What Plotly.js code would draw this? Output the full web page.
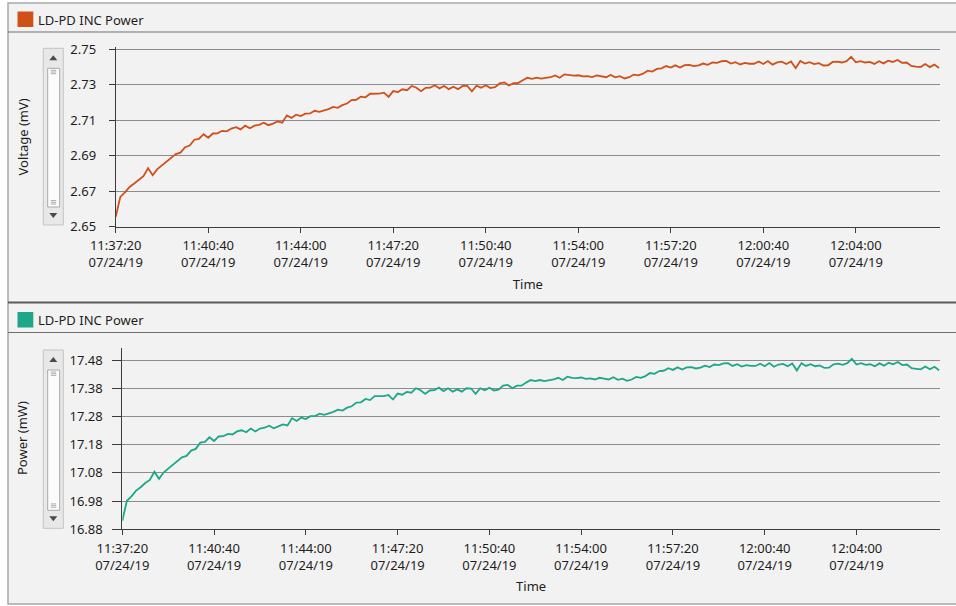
<!DOCTYPE html>
<html>
<head>
<meta charset="utf-8">
<script src="https://cdn.plot.ly/plotly-3.0.1.min.js"></script>
<style>
html,body{margin:0;padding:0;background:#ffffff;}
#chart{width:956px;height:606px;}
</style>
</head>
<body>
<div id="chart"></div>
<script>
// ---------------- data ----------------
const seriesName = 'LD-PD INC Power';
const dateLabel = '07/24/19';
const dayPrefix = '2019-07-24 ';
const startClock = '11:37:20';
const endClock = '12:07:02';
const sampleSeconds = 10;   // one reading every 10 s from the start time

const tickTimes = ['11:37:20','11:40:40','11:44:00','11:47:20','11:50:40','11:54:00','11:57:20','12:00:40','12:04:00'];
const voltageTicks = [2.65, 2.67, 2.69, 2.71, 2.73, 2.75];
const powerTicks = [16.88, 16.98, 17.08, 17.18, 17.28, 17.38, 17.48];

// Voltage (mV), one value per 10 s
const voltage = [
2.6555,2.6667,2.6692,2.6723,2.6742,2.6764,2.6783,2.6828,2.6789,2.6823,
2.6845,2.6866,2.6885,2.6908,2.6916,2.6947,2.6956,2.6989,2.6994,2.7020,
2.7000,2.7024,2.7025,2.7039,2.7036,2.7052,2.7060,2.7047,2.7068,2.7054,
2.7068,2.7073,2.7085,2.7071,2.7080,2.7092,2.7085,2.7126,2.7112,2.7130,
2.7122,2.7136,2.7137,2.7152,2.7146,2.7152,2.7161,2.7174,2.7169,2.7184,
2.7193,2.7212,2.7214,2.7232,2.7228,2.7248,2.7248,2.7249,2.7254,2.7230,
2.7263,2.7257,2.7273,2.7268,2.7292,2.7282,2.7262,2.7281,2.7282,2.7296,
2.7278,2.7292,2.7274,2.7287,2.7274,2.7292,2.7292,2.7262,2.7293,2.7282,
2.7296,2.7280,2.7285,2.7306,2.7312,2.7294,2.7307,2.7308,2.7324,2.7338,
2.7332,2.7339,2.7333,2.7336,2.7341,2.7351,2.7338,2.7357,2.7352,2.7350,
2.7352,2.7346,2.7347,2.7342,2.7351,2.7347,2.7341,2.7354,2.7340,2.7347,
2.7334,2.7341,2.7356,2.7352,2.7361,2.7378,2.7373,2.7388,2.7391,2.7404,
2.7395,2.7408,2.7396,2.7409,2.7410,2.7404,2.7408,2.7418,2.7411,2.7424,
2.7422,2.7431,2.7433,2.7418,2.7426,2.7413,2.7422,2.7417,2.7417,2.7430,
2.7416,2.7432,2.7412,2.7425,2.7429,2.7415,2.7430,2.7392,2.7433,2.7418,
2.7426,2.7415,2.7420,2.7407,2.7408,2.7427,2.7429,2.7424,2.7432,2.7456,
2.7425,2.7432,2.7424,2.7427,2.7416,2.7431,2.7419,2.7434,2.7427,2.7438,
2.7422,2.7424,2.7405,2.7401,2.7398,2.7415,2.7398,2.7412,2.7393
];

// Power (mW), one value per 10 s
const power = [
16.910,16.981,16.997,17.017,17.029,17.044,17.055,17.084,17.059,17.081,
17.095,17.109,17.120,17.135,17.140,17.159,17.165,17.187,17.190,17.206,
17.193,17.209,17.210,17.218,17.216,17.227,17.231,17.224,17.237,17.227,
17.237,17.240,17.247,17.238,17.245,17.252,17.248,17.274,17.264,17.276,
17.271,17.281,17.281,17.290,17.286,17.290,17.296,17.304,17.301,17.311,
17.316,17.329,17.330,17.342,17.338,17.352,17.351,17.352,17.356,17.340,
17.361,17.357,17.367,17.364,17.380,17.373,17.360,17.372,17.373,17.382,
17.370,17.380,17.368,17.376,17.368,17.380,17.379,17.360,17.380,17.373,
17.382,17.372,17.375,17.389,17.392,17.380,17.389,17.389,17.400,17.409,
17.405,17.409,17.405,17.408,17.411,17.417,17.409,17.421,17.417,17.416,
17.418,17.413,17.415,17.411,17.417,17.414,17.411,17.419,17.410,17.414,
17.406,17.411,17.420,17.417,17.423,17.434,17.431,17.441,17.442,17.451,
17.445,17.454,17.446,17.454,17.455,17.450,17.453,17.460,17.455,17.464,
17.462,17.468,17.469,17.459,17.465,17.457,17.462,17.459,17.459,17.467,
17.458,17.469,17.456,17.464,17.466,17.458,17.468,17.443,17.469,17.459,
17.465,17.458,17.461,17.452,17.453,17.465,17.467,17.463,17.469,17.484,
17.464,17.469,17.463,17.465,17.458,17.468,17.460,17.470,17.465,17.473,
17.462,17.464,17.451,17.449,17.447,17.457,17.447,17.456,17.444
];

// ---------------- helpers ----------------
function clockToSec(c){const p=c.split(':').map(Number);return p[0]*3600+p[1]*60+p[2];}
function two(n){return (n<10?'0':'')+n;}
function secToStamp(s){return dayPrefix+two(Math.floor(s/3600))+':'+two(Math.floor(s%3600/60))+':'+two(s%60);}
const startSec = clockToSec(startClock);
const times = voltage.map((_,i)=>secToStamp(startSec+i*sampleSeconds));
const tickVals = tickTimes.map(t=>dayPrefix+t);
const tickText = tickTimes.map(t=>t+'<br>'+dateLabel);

const W=956,H=606;
const PX=x=>x/W, PY=y=>1-y/H;

const FONT='"Noto Sans", "DejaVu Sans", sans-serif';
const TXT='#1e1e1e';
const ORANGE='#d0501a';
const TEAL='#1ca789';
const GRID='#8c8c8c';
const AXL='#3c3c3c';

function xAxis(domL, domR){
  return {
    type:'date', domain:[PX(domL),PX(domR)], range:[dayPrefix+startClock, dayPrefix+endClock],
    tickmode:'array', tickvals:tickVals, ticktext:tickText,
    ticks:'outside', ticklen:5, tickcolor:AXL, tickwidth:1, ticklabelstandoff:2,
    showline:true, linecolor:AXL, linewidth:1, showgrid:false, zeroline:false,
    tickfont:{family:FONT,size:13,color:TXT},
    title:{text:'Time', font:{family:FONT,size:13,color:TXT}, standoff:9},
    automargin:false, fixedrange:true
  };
}
function yAxis(domB, domT, rng, ticks, dec, len, stand){
  return {
    domain:[PY(domB),PY(domT)], range:rng,
    tickmode:'array', tickvals:ticks, ticktext:ticks.map(v=>v.toFixed(dec)),
    ticks:'outside', ticklen:len, tickcolor:AXL, tickwidth:1, ticklabelstandoff:stand,
    showline:true, linecolor:AXL, linewidth:1,
    showgrid:true, gridcolor:GRID, gridwidth:1, zeroline:false,
    tickfont:{family:FONT,size:13,color:TXT},
    automargin:false, fixedrange:true
  };
}

// scrollbar-like decoration at the left of each panel
function scrollbar(top,bottom){
  const cx=53.3, l=43.3, r=63.3;
  const s=[];
  s.push({type:'rect',xref:'paper',yref:'paper',x0:PX(l),x1:PX(r),y0:PY(bottom),y1:PY(top),
          fillcolor:'#e8e8e8',line:{color:'#c4c4c4',width:1},layer:'above'});
  s.push({type:'path',xref:'paper',yref:'paper',
          path:`M ${PX(cx-4)} ${PY(top+12)} L ${PX(cx+4)} ${PY(top+12)} L ${PX(cx)} ${PY(top+7)} Z`,
          fillcolor:'#4a4a4a',line:{width:0},layer:'above'});
  s.push({type:'path',xref:'paper',yref:'paper',
          path:`M ${PX(cx-4)} ${PY(bottom-12)} L ${PX(cx+4)} ${PY(bottom-12)} L ${PX(cx)} ${PY(bottom-7)} Z`,
          fillcolor:'#4a4a4a',line:{width:0},layer:'above'});
  s.push({type:'rect',xref:'paper',yref:'paper',x0:PX(47.7),x1:PX(59.7),y0:PY(bottom-18),y1:PY(top+20),
          fillcolor:'#fbfbfb',line:{color:'#a9a9a9',width:1},layer:'above'});
  [top+22,top+23.7,top+25.4, bottom-24.4,bottom-22.7,bottom-21].forEach(y=>{
    s.push({type:'line',xref:'paper',yref:'paper',x0:PX(50.8),x1:PX(56.2),y0:PY(y),y1:PY(y),
            line:{color:'#9a9a9a',width:0.8},layer:'above'});
  });
  return s;
}

const shapes = [
  // panel frame
  {type:'rect',xref:'paper',yref:'paper',x0:PX(8),x1:1.01,y0:PY(604),y1:PY(3),
   fillcolor:'#f2f2f2',line:{color:'#a8a8a8',width:1.5},layer:'below'},
  // header separators
  {type:'line',xref:'paper',yref:'paper',x0:PX(8),x1:1,y0:PY(32),y1:PY(32),line:{color:'#6e6e6e',width:1}},
  {type:'line',xref:'paper',yref:'paper',x0:PX(8),x1:1,y0:PY(302.5),y1:PY(302.5),line:{color:'#5a5a5a',width:2}},
  {type:'line',xref:'paper',yref:'paper',x0:PX(8),x1:1,y0:PY(332.5),y1:PY(332.5),line:{color:'#6e6e6e',width:1}},
  // legend swatches
  {type:'rect',xref:'paper',yref:'paper',x0:PX(17.5),x1:PX(33.3),y0:PY(27),y1:PY(11.5),fillcolor:ORANGE,line:{width:0}},
  {type:'rect',xref:'paper',yref:'paper',x0:PX(17.5),x1:PX(33.3),y0:PY(327.5),y1:PY(312),fillcolor:TEAL,line:{width:0}},
].concat(scrollbar(48.3,225)).concat(scrollbar(350,528.3));

const annotations = [
  {xref:'paper',yref:'paper',x:PX(35.5),y:PY(19.5),xanchor:'left',yanchor:'middle',showarrow:false,
   text:seriesName,font:{family:FONT,size:13,color:TXT}},
  {xref:'paper',yref:'paper',x:PX(35.5),y:PY(320),xanchor:'left',yanchor:'middle',showarrow:false,
   text:seriesName,font:{family:FONT,size:13,color:TXT}},
  {xref:'paper',yref:'paper',x:PX(22),y:PY(137.5),xanchor:'center',yanchor:'middle',showarrow:false,textangle:-90,
   text:'Voltage (mV)',font:{family:FONT,size:13,color:TXT}},
  {xref:'paper',yref:'paper',x:PX(22),y:PY(438),xanchor:'center',yanchor:'middle',showarrow:false,textangle:-90,
   text:'Power (mW)',font:{family:FONT,size:13,color:TXT}}
];

const traces = [
  {x:times,y:voltage,type:'scatter',mode:'lines',name:seriesName,xaxis:'x',yaxis:'y',
   line:{color:ORANGE,width:1.8},hoverinfo:'skip'},
  {x:times,y:power,type:'scatter',mode:'lines',name:seriesName,xaxis:'x2',yaxis:'y2',
   line:{color:TEAL,width:1.8},hoverinfo:'skip'}
];

const layout = {
  width:W,height:H,margin:{l:0,r:0,t:0,b:0},
  paper_bgcolor:'#ffffff',plot_bgcolor:'rgba(0,0,0,0)',
  showlegend:false,
  font:{family:FONT,size:13,color:TXT},
  xaxis:Object.assign(xAxis(115.7,940),{anchor:'y'}),
  yaxis:Object.assign(yAxis(226.5,46.7,[2.65,2.7513],voltageTicks,2,6,10),{anchor:'x'}),
  xaxis2:Object.assign(xAxis(122.3,940),{anchor:'y2'}),
  yaxis2:Object.assign(yAxis(529.3,348,[16.88,17.5226],powerTicks,2,9,7),{anchor:'x2'}),
  shapes:shapes,
  annotations:annotations
};

Plotly.newPlot('chart',traces,layout,{displayModeBar:false,staticPlot:true});
</script>
</body>
</html>
